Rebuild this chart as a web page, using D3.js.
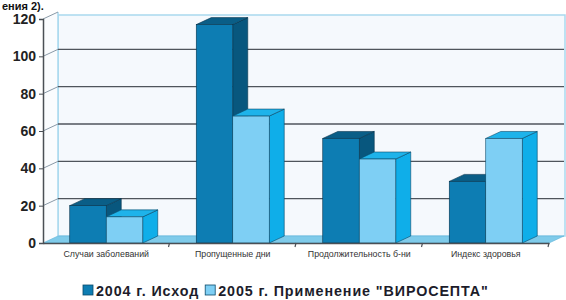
<!DOCTYPE html>
<html><head><meta charset="utf-8">
<script src="https://cdn.jsdelivr.net/npm/d3@7"></script>
<style>body{margin:0;background:#fff}svg{display:block}</style>
</head><body><svg id="c" width="566" height="300"></svg>
<script>
const categories = ["Случаи заболеваний","Пропущенные дни","Продолжительность б-ни","Индекс здоровья"];
const seriesNames = ["2004 г. Исход","2005 г. Применение \"ВИРОСЕПТА\""];
const values2004 = [20,117,56,33];
const values2005 = [14,68,45,56];
const yTicks = [0,20,40,60,80,100,120];

const svg = d3.select("#c");
const DX = 15, DY = -7;
const x0 = 43, x1 = 549, yBottom = 243, yTop = 19;
const y = d3.scaleLinear().domain([0,120]).range([yBottom,yTop]);
const xc = d3.scaleBand().domain(categories).range([x0,x1]).paddingInner(0).paddingOuter(0);
const xs = d3.scaleBand().domain([0,1]).range([0,xc.bandwidth()]).paddingInner(0).paddingOuter(0.733);

const colors = [
  {front:"#0d7db3", top:"#0a5e87", side:"#08577e", stroke:"#06344d"},
  {front:"#7ecff4", top:"#1eb3ea", side:"#0faee9", stroke:"#0a4a6a"}
];

// title fragment
svg.append("text").attr("x",2).attr("y",10).attr("font-family","Liberation Sans, Arial, sans-serif")
  .attr("font-weight","bold").attr("font-size",11).attr("fill","#111").text("ения 2).");

// back wall
svg.append("rect").attr("x",x0+DX).attr("y",yTop+DY+3).attr("width",x1-x0+1).attr("height",yBottom-yTop-3)
  .attr("fill","#f5f9fd").attr("stroke","#a9d9ee").attr("stroke-width",1.5);
// side wall
svg.append("path").attr("d",`M${x0},${y(120)}L${x0+DX},${y(120)+DY}L${x0+DX},${yBottom+DY}L${x0},${yBottom}Z`)
  .attr("fill","#fafcfe").attr("stroke","none");
svg.append("line").attr("x1",x0+DX).attr("x2",x0+DX).attr("y1",y(120)+DY).attr("y2",yBottom+DY)
  .attr("stroke","#a9d9ee").attr("stroke-width",1.5);

// gridlines
yTicks.filter(t=>t>0).forEach(t=>{
  if(t<120) svg.append("line").attr("x1",x0+DX).attr("x2",x1+DX).attr("y1",y(t)+DY).attr("y2",y(t)+DY)
    .attr("stroke","#4f555c").attr("stroke-width",1.4);
  svg.append("line").attr("x1",x0).attr("x2",x0+DX).attr("y1",y(t)).attr("y2",y(t)+DY)
    .attr("stroke","#8a9aa8").attr("stroke-width",1);
});

// floor
svg.append("path").attr("d",`M${x0},${yBottom}L${x1},${yBottom}L${x1+DX},${yBottom+DY}L${x0+DX},${yBottom+DY}Z`)
  .attr("fill","#7fcbea").attr("stroke","#5fb4d8").attr("stroke-width",0.6);

// bars
[values2004, values2005].forEach((vals, si)=>{
  const c = colors[si];
  categories.forEach((cat,i)=>{
    const bx = xc(cat)+xs(si), bw = xs.bandwidth(), by = y(vals[i]);
    const g = svg.append("g");
    g.append("path").attr("d",`M${bx+bw},${by}L${bx+bw+DX},${by+DY}L${bx+bw+DX},${yBottom+DY}L${bx+bw},${yBottom}Z`)
      .attr("fill",c.side).attr("stroke",c.stroke).attr("stroke-width",0.6);
    g.append("path").attr("d",`M${bx},${by}L${bx+DX},${by+DY}L${bx+bw+DX},${by+DY}L${bx+bw},${by}Z`)
      .attr("fill",c.top).attr("stroke",c.stroke).attr("stroke-width",0.6);
    g.append("rect").attr("x",bx).attr("y",by).attr("width",bw).attr("height",yBottom-by)
      .attr("fill",c.front).attr("stroke",c.stroke).attr("stroke-width",0.6);
  });
});

// y axis
const ya = svg.append("g").attr("transform",`translate(${x0},0)`)
  .call(d3.axisLeft(y).tickValues(yTicks).tickSize(4).tickPadding(3));
ya.select(".domain").attr("stroke","#4a4f55").attr("stroke-width",1.5);
ya.selectAll(".tick line").attr("stroke","#4a4f55");
ya.selectAll("text").attr("font-family","Liberation Sans, Arial, sans-serif").attr("font-weight","bold")
  .attr("font-size",14).attr("fill","#222");

// x axis
const xa = svg.append("g").attr("transform",`translate(0,${yBottom})`)
  .call(d3.axisBottom(xc).tickSize(0).tickPadding(8));
xa.select(".domain").attr("stroke","#4a4f55").attr("stroke-width",1.5);
xa.selectAll("text").attr("font-family","Liberation Sans, Arial, sans-serif").attr("font-size",8.8).attr("fill","#333");
categories.forEach(cat=>{
  const xx = xc(cat)+xc.bandwidth();
  svg.append("line").attr("x1",xx).attr("x2",xx-1).attr("y1",yBottom).attr("y2",yBottom+4).attr("stroke","#4a4f55").attr("stroke-width",1.2);
});

// legend
const lg = svg.append("g").attr("font-family","Liberation Sans, Arial, sans-serif").attr("font-weight","bold").attr("font-size",14.3).attr("fill","#1c1c2a");
let lx = 83;
seriesNames.forEach((n,i)=>{
  lg.append("rect").attr("x",lx).attr("y",285).attr("width",10).attr("height",10)
    .attr("fill",i===0?"#0d7db3":"#7ecff4").attr("stroke","#0a4a6a").attr("stroke-width",0.8);
  const t = lg.append("text").attr("x",lx+13).attr("y",295.5).attr("letter-spacing",0.9).text(n);
  lx += 13 + t.node().getComputedTextLength() + 6;
});
</script></body></html>
